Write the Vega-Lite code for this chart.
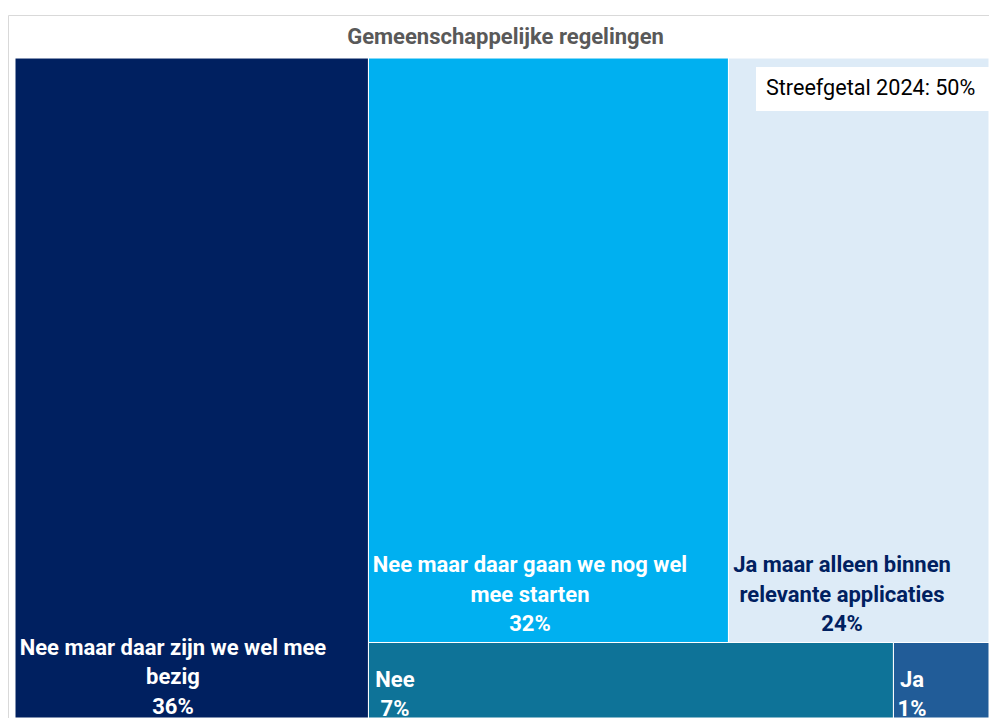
{
  "$schema": "https://vega.github.io/schema/vega-lite/v6.json",
  "width": 981,
  "height": 703,
  "autosize": {"type": "none"},
  "padding": {"left": 8, "top": 15, "right": 0, "bottom": 0},
  "background": "white",
  "title": {
    "text": "Gemeenschappelijke regelingen",
    "font": "Roboto",
    "fontSize": 22,
    "fontWeight": "bold",
    "color": "#595959",
    "anchor": "middle",
    "baseline": "alphabetic",
    "offset": -30,
    "dx": 7,
    "dy": 21
  },
  "config": {"view": {"stroke": "#d9d9d9", "strokeWidth": 1}},
  "datasets": {
    "tiles": [
      {"categorie": "Nee maar daar zijn we wel mee bezig", "label": "Nee maar daar zijn we wel mee\nbezig", "pct": 36, "x0": 0, "x1": 0.3629, "y0": 0, "y1": 1, "lx": 0.1622, "ly": 0.0955},
      {"categorie": "Nee maar daar gaan we nog wel mee starten", "label": "Nee maar daar gaan we nog wel\nmee starten", "pct": 32, "x0": 0.3629, "x1": 0.7325, "y0": 0.1144, "y1": 1, "lx": 0.5287, "ly": 0.2212},
      {"categorie": "Ja maar alleen binnen relevante applicaties", "label": "Ja maar alleen binnen\nrelevante applicaties", "pct": 24, "x0": 0.7325, "x1": 1, "y0": 0.1144, "y1": 1, "lx": 0.8491, "ly": 0.2212},
      {"categorie": "Nee", "label": "Nee", "pct": 7, "x0": 0.3629, "x1": 0.9019, "y0": 0, "y1": 0.1144, "lx": 0.3901, "ly": 0.047},
      {"categorie": "Ja", "label": "Ja", "pct": 1, "x0": 0.9019, "x1": 1, "y0": 0, "y1": 0.1144, "lx": 0.9209, "ly": 0.047}
    ],
    "annotation": [
      {"tekst": "Streefgetal 2024: 50%", "x0": 0.7608, "x1": 1, "y0": 0.9197, "y1": 0.9864, "tx": 0.771, "ty": 0.9439}
    ]
  },
  "layer": [
    {
      "data": {"name": "tiles"},
      "mark": {"type": "rect", "stroke": "white", "strokeWidth": 1},
      "encoding": {
        "x": {"field": "x0", "type": "quantitative", "axis": null, "scale": {"domain": [-0.00719, 1], "nice": false, "zero": false}},
        "x2": {"field": "x1"},
        "y": {"field": "y0", "type": "quantitative", "axis": null, "scale": {"domain": [0, 1.0652], "nice": false, "zero": false}},
        "y2": {"field": "y1"},
        "color": {
          "field": "categorie",
          "type": "nominal",
          "legend": null,
          "scale": {
            "domain": ["Nee maar daar zijn we wel mee bezig", "Nee maar daar gaan we nog wel mee starten", "Ja maar alleen binnen relevante applicaties", "Nee", "Ja"],
            "range": ["#002060", "#00B0F0", "#DDEBF7", "#0E7398", "#215C98"]
          }
        }
      }
    },
    {
      "data": {"name": "tiles"},
      "transform": [{"calculate": "datum.label + '\\n' + datum.pct + '%'", "as": "tekst"}],
      "mark": {"type": "text", "font": "Roboto", "fontSize": 22, "fontWeight": "bold", "align": "center", "baseline": "alphabetic", "lineBreak": "\n", "lineHeight": 29.5},
      "encoding": {
        "x": {"field": "lx", "type": "quantitative"},
        "y": {"field": "ly", "type": "quantitative"},
        "text": {"field": "tekst"},
        "color": {"condition": {"test": "datum.categorie === 'Ja maar alleen binnen relevante applicaties'", "value": "#002060"}, "value": "white"}
      }
    },
    {
      "data": {"name": "annotation"},
      "mark": {"type": "rect", "fill": "white"},
      "encoding": {
        "x": {"field": "x0", "type": "quantitative"},
        "x2": {"field": "x1"},
        "y": {"field": "y0", "type": "quantitative"},
        "y2": {"field": "y1"}
      }
    },
    {
      "data": {"name": "annotation"},
      "mark": {"type": "text", "font": "Roboto", "fontSize": 21.6, "align": "left", "baseline": "alphabetic", "color": "black"},
      "encoding": {
        "x": {"field": "tx", "type": "quantitative"},
        "y": {"field": "ty", "type": "quantitative"},
        "text": {"field": "tekst"}
      }
    }
  ]
}
